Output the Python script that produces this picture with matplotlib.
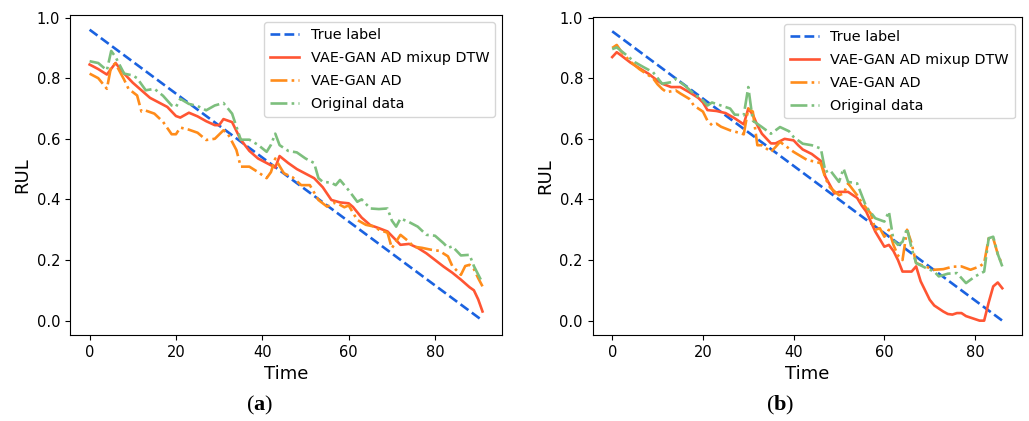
import numpy as np
import matplotlib
matplotlib.use("Agg")
import matplotlib.pyplot as plt

plt.rcParams['mathtext.fontset'] = 'custom'
plt.rcParams['mathtext.bf'] = 'Liberation Serif:bold'

# ---- panel (a): 92 time steps ----
a_true_t = [0, 91]
a_true_v = [0.96, 0.0]

a_dtw_t = [0, 2, 4, 6, 8, 10, 12, 14, 16, 18, 20, 21, 23, 25, 27, 29, 30, 31, 33, 35,
           37, 39, 41, 43, 44, 46, 48, 50, 52, 54, 56, 58, 60, 61, 63, 65, 67, 69, 71, 72,
           74, 76, 78, 80, 82, 84, 86, 88, 89, 90, 91]
a_dtw_v = [0.845, 0.83, 0.812, 0.85, 0.815, 0.785, 0.76, 0.735, 0.72, 0.705, 0.675, 0.67,
           0.686, 0.674, 0.658, 0.645, 0.645, 0.665, 0.655, 0.597, 0.56, 0.535, 0.52, 0.505,
           0.543, 0.52, 0.5, 0.485, 0.47, 0.44, 0.398, 0.39, 0.387, 0.375, 0.34, 0.315,
           0.305, 0.294, 0.265, 0.25, 0.253, 0.24, 0.222, 0.2, 0.178, 0.158, 0.135, 0.11,
           0.1, 0.07, 0.03]

a_ad_t = [0, 2, 4, 5, 6, 8, 9, 11, 12, 13, 15, 17, 19, 20, 21, 23, 25, 27, 29, 31, 32, 34,
          35, 37, 39, 41, 42, 43, 44, 45, 47, 49, 51, 53, 55, 57, 59, 60, 62, 64, 66, 67, 69,
          70, 72, 74, 75, 77, 79, 81, 83, 84, 86, 87, 88, 89, 90, 91]
a_ad_v = [0.815, 0.8, 0.765, 0.84, 0.848, 0.795, 0.765, 0.743, 0.69, 0.693, 0.683, 0.656,
          0.615, 0.615, 0.637, 0.63, 0.62, 0.596, 0.6, 0.628, 0.617, 0.563, 0.508, 0.508,
          0.49, 0.47, 0.49, 0.535, 0.51, 0.486, 0.473, 0.447, 0.447, 0.398, 0.376, 0.39,
          0.374, 0.38, 0.332, 0.316, 0.31, 0.3, 0.29, 0.239, 0.283, 0.26, 0.244, 0.24,
          0.234, 0.23, 0.212, 0.18, 0.151, 0.18, 0.184, 0.17, 0.14, 0.113]

a_orig_t = [0, 2, 4, 5, 6, 8, 10, 11, 13, 15, 17, 19, 20, 21, 23, 25, 27, 29, 31, 33, 35,
            37, 39, 41, 42, 43, 44, 46, 48, 50, 52, 53, 54, 56, 57, 58, 60, 62, 63, 65, 67,
            69, 70, 71, 72, 74, 76, 78, 80, 82, 83, 84, 86, 88, 89, 91]
a_orig_v = [0.856, 0.85, 0.826, 0.89, 0.87, 0.815, 0.809, 0.8, 0.76, 0.765, 0.742, 0.71,
            0.705, 0.732, 0.715, 0.708, 0.694, 0.71, 0.718, 0.683, 0.597, 0.597, 0.58,
            0.557, 0.58, 0.617, 0.579, 0.56, 0.555, 0.535, 0.52, 0.47, 0.458, 0.455, 0.447,
            0.464, 0.43, 0.392, 0.4, 0.37, 0.368, 0.37, 0.33, 0.31, 0.337, 0.325, 0.31,
            0.283, 0.28, 0.255, 0.24, 0.245, 0.215, 0.217, 0.18, 0.124]

# ---- panel (b): 87 time steps ----
b_true_t = [0, 86]
b_true_v = [0.955, 0.0]

b_dtw_t = [0, 1, 2, 4, 6, 8, 10, 11, 13, 15, 17, 19, 20, 21, 23, 25, 27, 29, 30, 31, 32,
           33, 35, 36, 38, 40, 41, 42, 44, 46, 47, 49, 50, 52, 54, 55, 56, 58, 60, 61, 62,
           63, 64, 66, 67, 68, 70, 71, 73, 74, 75, 76, 77, 78, 80, 81, 82, 83, 84, 85, 86]
b_dtw_v = [0.87, 0.886, 0.875, 0.852, 0.833, 0.815, 0.792, 0.782, 0.771, 0.771, 0.754,
           0.735, 0.72, 0.695, 0.692, 0.685, 0.668, 0.648, 0.7, 0.68, 0.645, 0.617, 0.585,
           0.585, 0.6, 0.595, 0.579, 0.565, 0.55, 0.527, 0.475, 0.42, 0.425, 0.425, 0.405,
           0.38, 0.36, 0.294, 0.244, 0.25, 0.23, 0.2, 0.162, 0.162, 0.179, 0.13, 0.069,
           0.05, 0.03, 0.022, 0.02, 0.025, 0.025, 0.015, 0.005, 0.0, 0.0, 0.06, 0.113,
           0.126, 0.107]

b_ad_t = [0, 1, 2, 4, 6, 8, 9, 10, 11, 12, 14, 15, 17, 18, 19, 20, 21, 22, 23, 24, 26, 28,
          29, 30, 31, 32, 33, 35, 36, 37, 39, 40, 43, 45, 46, 47, 48, 50, 51, 52, 54, 55,
          57, 58, 59, 60, 61, 62, 63, 64, 65, 66, 67, 69, 71, 73, 75, 77, 79, 81, 82, 83,
          84, 85, 86]
b_ad_v = [0.9, 0.91, 0.888, 0.855, 0.83, 0.81, 0.8, 0.78, 0.765, 0.754, 0.76, 0.75, 0.732,
          0.71, 0.7, 0.69, 0.66, 0.645, 0.65, 0.64, 0.628, 0.62, 0.615, 0.7, 0.69, 0.579,
          0.579, 0.557, 0.573, 0.59, 0.568, 0.557, 0.53, 0.524, 0.519, 0.47, 0.44, 0.414,
          0.42, 0.453, 0.414, 0.39, 0.354, 0.3, 0.305, 0.277, 0.3, 0.25, 0.215, 0.2, 0.3,
          0.256, 0.19, 0.179, 0.168, 0.17, 0.178, 0.179, 0.168, 0.179, 0.19, 0.272, 0.272,
          0.22, 0.184]

b_orig_t = [0, 1, 3, 5, 7, 9, 11, 13, 14, 16, 18, 20, 21, 22, 24, 26, 27, 29, 30, 31, 33,
            35, 37, 39, 40, 42, 44, 46, 47, 48, 50, 51, 52, 54, 56, 58, 60, 61, 62, 63, 64,
            65, 66, 67, 69, 71, 72, 74, 76, 78, 80, 82, 83, 84, 85, 86]
b_orig_v = [0.896, 0.902, 0.878, 0.853, 0.836, 0.82, 0.782, 0.787, 0.798, 0.776, 0.749,
            0.727, 0.71, 0.72, 0.71, 0.7, 0.68, 0.678, 0.771, 0.66, 0.639, 0.617, 0.639,
            0.625, 0.606, 0.584, 0.579, 0.568, 0.491, 0.497, 0.458, 0.502, 0.458, 0.453,
            0.376, 0.338, 0.327, 0.36, 0.266, 0.25, 0.26, 0.305, 0.239, 0.19, 0.175, 0.162,
            0.146, 0.155, 0.157, 0.124, 0.146, 0.162, 0.272, 0.277, 0.22, 0.179]

labels = ['True label', 'VAE-GAN AD mixup DTW', 'VAE-GAN AD', 'Original data']
colors = ['#1a62e0', '#ff5533', '#ff8c1a', '#7dbf7d']


def draw(ax, true_t, true_v, dtw_t, dtw_v, ad_t, ad_v, orig_t, orig_v):
    ax.plot(true_t, true_v, '--', color=colors[0], lw=1.9, label=labels[0])
    ax.plot(dtw_t, dtw_v, '-', color=colors[1], lw=1.9, label=labels[1])
    ax.plot(ad_t, ad_v, '-.', color=colors[2], lw=1.9, label=labels[2])
    ax.plot(orig_t, orig_v, '-.', color=colors[3], lw=1.9, label=labels[3])
    ax.set_xlabel('Time', fontsize=13)
    ax.set_ylabel('RUL', fontsize=13)
    ax.tick_params(labelsize=10.5)
    ax.legend(loc='upper right', fontsize=10.4, labelspacing=0.62)


fig = plt.figure(figsize=(10.29, 4.21), dpi=100)
ax1 = fig.add_axes([0.068, 0.204, 0.420, 0.760])
ax2 = fig.add_axes([0.576, 0.204, 0.417, 0.756])

draw(ax1, a_true_t, a_true_v, a_dtw_t, a_dtw_v, a_ad_t, a_ad_v, a_orig_t, a_orig_v)
draw(ax2, b_true_t, b_true_v, b_dtw_t, b_dtw_v, b_ad_t, b_ad_v, b_orig_t, b_orig_v)

fig.text(0.252, 0.038, r'($\mathbf{a}$)', fontsize=16, family='Liberation Serif',
         ha='center', va='center')
fig.text(0.758, 0.038, r'($\mathbf{b}$)', fontsize=16, family='Liberation Serif',
         ha='center', va='center')

fig.savefig('out.png', dpi=100)
